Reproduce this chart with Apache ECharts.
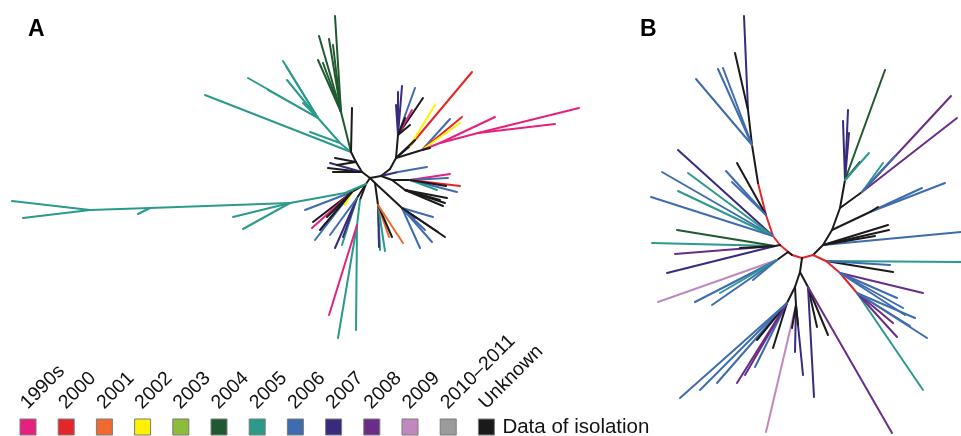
<!DOCTYPE html>
<html><head><meta charset="utf-8">
<script src="https://cdn.jsdelivr.net/npm/echarts@6/dist/echarts.min.js"></script>
<style>html,body{margin:0;padding:0;background:#fff}#c{width:961px;height:436px}</style>
</head><body><div id="c"></div>
<script>
// Year categories (legend) and their colours
const years = ['1990s','2000','2001','2002','2003','2004','2005','2006','2007','2008','2009','2010\u20132011','Unknown'];
const yearColors = ['#e6207f','#e4262b','#ef6a30','#fff200','#8dbb3c','#1f5a2f','#2c9a8b','#3e6cae','#3a2a7d','#6a2c86','#c288be','#9b9b9b','#1a1a1a'];
const legendTitle = 'Data of isolation';
const panelLabels = ['A','B'];

// Tree A: [node, parent, x, y (down), year index]; root = 'r' at (0,0)
const treeA = [
 ['L1','r',-8,-6,12],['L2','L1',-14,-16,12],['U0','L2',-19,-26,12],
 ['R1','r',11,-2,12],['R2','R1',20,-9,12],['R3','R2',26,-20,12],
 ['D1','r',-4,6,12],['D2','r',5,5,12],
 ['a1','L1',-42,-10,12],['a2','L1',-40,-15,8],['a3','L1',-37,-6,12],['a4','L2',-33,-13,12],['a5','L2',-35,-20,12],
 ['T0','U0',-30,-35,6],['t1','U0',-165,-83,6],['T1','T0',-52,-60,6],
 ['t2','T1',-122,-100,6],['t3','T1',-87,-117,6],['t4','T1',-84,-112,6],['t5','T1',-83,-98,6],
 ['t6','T1',-102,-88,6],['t7','T0',-60,-46,6],['t8','T1',-67,-75,6],
 ['G0','U0',-29,-66,5],['g1','G0',-35,-162,5],['g2','G0',-51,-142,5],['g3','G0',-41,-139,5],
 ['g4','G0',-37,-133,5],['g5','G0',-52,-118,5],['g6','G0',-47,-115,5],
 ['b1','U0',-18,-70,12],
 ['U1','R3',28,-43,12],['u1','U1',28,-86,8],['u2','U1',32,-92,8],['u3','U1',45,-90,7],
 ['u4','U1',53,-80,12],['u5','U1',42,-68,0],['u6','U1',26,-73,8],['u7','U1',40,-53,12],['u8','U1',35,-60,12],
 ['V1','R3',40,-32,12],['v1','V1',102,-106,1],['v2','V1',65,-73,3],
 ['V2','R3',52,-28,12],['v3','V2',80,-59,7],['v4','V2',92,-61,1],['v5','V2',90,-55,3],
 ['P0','V2',70,-35,0],['v6','P0',125,-61,0],['P1','P0',108,-45,0],['v7','P1',209,-70,0],['v8','P1',185,-54,0],
 ['v9','V2',60,-30,12],['v10','R3',45,-38,12],
 ['X1','R1',28,-6,8],['x1','X1',57,-11,7],
 ['X0','R1',22,2,12],['X2','X0',40,2,12],
 ['x2','X2',80,-4,0],['x3','X2',78,0,7],['x4','X2',90,8,1],['x5','X2',87,14,7],['x6','X2',67,12,6],['x7','X2',76,8,12],
 ['X3','X0',35,12,12],['x8','X3',75,25,12],['x9','X3',70,22,12],['x10','X3',77,20,12],['x11','X3',73,28,12],
 ['Y0','D2',18,17,12],['Y1','Y0',32,30,12],
 ['y1','Y1',75,59,12],['y2','Y1',63,39,7],['y3','Y1',62,64,7],['y4','Y1',50,70,7],['y5','Y1',45,40,9],['y6','Y1',55,52,7],['y7','Y1',68,54,12],
 ['Z0','D2',8,27,12],['z1','Z0',10,72,6],['z2','Z0',9,69,8],['z3','Z0',15,73,6],['z4','Z0',19,59,2],['z5','Z0',22,59,12],['z6','Z0',33,65,2],
 ['W0','D1',-10,22,12],['Wt','W0',-13,47,6],['w1','Wt',-32,160,6],['w2','Wt',-14,152,6],['w3','Wt',-41,137,0],
 ['K0','D1',-18,14,12],['k1','K0',-65,32,7],['k2','K0',-57,44,12],['k3','K0',-58,50,0],['k4','K0',-43,39,12],['k5','K0',-55,62,7],['k6','K0',-25,27,3],['k11','K0',-50,52,12],
 ['K1','D1',-13,20,12],['k7','K1',-35,70,8],['k8','K1',-28,67,6],['k9','K1',-27,59,8],['k10','K1',-40,57,7],
 ['TL0','D1',-25,15,6],['TL1','TL0',-80,25,6],['TL2','TL1',-220,30,6],['TL3','TL2',-280,32,6],
 ['l1','TL3',-358,23,6],['l2','TL3',-347,40,6],['l3','TL1',-137,39,6],['l4','TL1',-127,51,6],['l5','TL2',-232,36,6]
];

// Tree B: same layout
const treeB = [
 ['BL1','r',-10,-3,1],['BL2','BL1',-22,-13,1],['BL3','BL2',-29,-22,1],['BL4','BL3',-36,-43,1],['BL5','BL4',-44,-75,1],
 ['BT1','BL5',-50,-113,12],['BT2','BT1',-54,-148,12],
 ['bt1','BT2',-58,-242,8],['bt2','BT2',-67,-205,12],['bt3','BT1',-84,-189,7],['bt4','BT1',-79,-190,7],['bt5','BT1',-106,-179,7],
 ['bt6','BL4',-76,-87,7],['bt7','BL4',-65,-95,12],['bt8','BL4',-70,-76,7],
 ['bl1','BL3',-124,-108,8],['bl2','BL3',-140,-86,7],['bl3','BL3',-114,-85,6],['bl4','BL3',-124,-67,6],['bl5','BL3',-151,-61,7],
 ['BLa','BL2',-27,-12,12],['bl7','BLa',-150,-15,6],['bl8','BLa',-125,-28,5],['bl9','BLa',-127,-4,9],['bl10','BLa',-135,15,8],['bl11','BLa',-62,-10,12],
 ['BLb','BL1',-14,-6,12],['BLb1','BLb',-25,2,12],
 ['bl12','BLb1',-144,44,10],['bl13','BLb1',-107,44,7],['bl14','BLb1',-90,47,7],['bl15','BLb1',-82,35,6],['bl16','BLb1',-49,22,7],
 ['BR1','r',11,-3,1],['BU0','BR1',21,-13,12],['BU1','BU0',30,-28,12],['BU2','BU1',38,-50,12],['BU3','BU2',43,-78,12],
 ['bu1','BU3',41,-137,8],['bu2','BU3',46,-148,8],['bu3','BU3',47,-125,8],['bu4','BU3',83,-188,5],['bu5','BU3',58,-96,12],['bu6','BU3',67,-105,6],
 ['BU4','BU2',60,-66,12],['bu7','BU4',149,-162,9],['bu8','BU4',155,-140,9],['bu9','BU4',81,-95,6],['bu10','BU4',93,-102,7],
 ['BU6','BU1',68,-46,12],['bu11','BU6',143,-75,7],['bu12','BU6',120,-70,7],['bu13','BU6',76,-51,12],
 ['bu14','BU0',86,-33,12],['bu15','BU0',87,-28,12],['bu16','BU0',159,-26,7],['bu17','BU0',73,-22,12],
 ['BR2','BR1',24,3,1],['br1','BR2',159,4,6],['br2','BR2',91,14,12],['br3','BR2',88,7,7],
 ['BR3','BR2',38,15,1],['BR4','BR3',55,35,1],
 ['br4','BR3',121,35,9],['br5','BR3',101,50,7],['br6','BR3',95,40,7],['br11','BR3',103,57,7],
 ['br7','BR4',121,132,6],['br8','BR4',125,80,7],['br9','BR4',95,79,9],['br10','BR4',91,65,9],['br12','BR4',113,60,7],['br13','BR4',108,68,7],
 ['BD0','r',-2,14,12],['BD1','BD0',-7,29,12],['BD2','BD1',-15,45,12],
 ['bd1','BD2',-122,140,7],['bd2','BD2',-85,125,7],['bd3','BD2',-65,125,9],['bd4','BD2',-47,109,7],['bd5','BD2',-29,90,12],['bd6','BD2',-45,82,12],['bd7','BD2',-57,117,9],['bd17','BD2',-102,132,7],
 ['BD3','BD1',-6,47,12],['bd8','BD3',-36,174,10],['bd9','BD3',-7,94,8],['bd10','BD3',1,117,8],['bd11','BD3',-10,70,12],['bd12','BD3',-4,67,12],
 ['BD4','BD0',6,29,12],['bd13','BD4',15,69,12],['bd14','BD4',26,77,12],['bd15','BD4',12,139,8],['bd16','BD4',90,175,9]
];

function buildLines(rows) {
  const pos = { r: [0, 0] };
  rows.forEach(function (r) { pos[r[0]] = [r[2], r[3]]; });
  return rows.map(function (r) {
    return { coords: [pos[r[1]], pos[r[0]]], lineStyle: { color: yearColors[r[4]] } };
  });
}

const chart = echarts.init(document.getElementById('c'), null, { renderer: 'canvas' });
const graphics = [];
panelLabels.forEach(function (t, i) {
  graphics.push({ type: 'text', left: i === 0 ? 28 : 640, top: 18,
    style: { text: t, font: 'bold 23px "Liberation Sans", Arial, sans-serif', fill: '#000' } });
});
years.forEach(function (y, i) {
  const x = 20 + i * 38.2;
  graphics.push({ type: 'rect', shape: { x: x, y: 419, width: 16, height: 16 },
    style: { fill: yearColors[i], stroke: '#7a7a7a', lineWidth: 1 } });
  graphics.push({ type: 'text', x: x + 11, y: 413, rotation: Math.PI / 4,
    style: { text: y, font: '19.5px "Liberation Sans", Arial, sans-serif', fill: '#111', textAlign: 'left', textVerticalAlign: 'bottom' } });
});
graphics.push({ type: 'text', x: 20 + 12 * 38.2 + 24, y: 427,
  style: { text: legendTitle, font: '20.5px "Liberation Sans", Arial, sans-serif', fill: '#111', textAlign: 'left', textVerticalAlign: 'middle' } });

chart.setOption({
  animation: false,
  backgroundColor: '#fff',
  grid: [
    { left: 0, top: 0, width: 640, height: 436, containLabel: false },
    { left: 640, top: 0, width: 321, height: 436, containLabel: false }
  ],
  xAxis: [
    { type: 'value', gridIndex: 0, min: -370, max: 270, show: false },
    { type: 'value', gridIndex: 1, min: -162, max: 159, show: false }
  ],
  yAxis: [
    { type: 'value', gridIndex: 0, min: -178, max: 258, inverse: true, show: false },
    { type: 'value', gridIndex: 1, min: -258, max: 178, inverse: true, show: false }
  ],
  series: [
    { type: 'lines', coordinateSystem: 'cartesian2d', xAxisIndex: 0, yAxisIndex: 0, silent: true,
      lineStyle: { width: 2, opacity: 1, cap: 'round' }, data: buildLines(treeA) },
    { type: 'lines', coordinateSystem: 'cartesian2d', xAxisIndex: 1, yAxisIndex: 1, silent: true,
      lineStyle: { width: 2, opacity: 1, cap: 'round' }, data: buildLines(treeB) }
  ],
  graphic: graphics
});
</script></body></html>
